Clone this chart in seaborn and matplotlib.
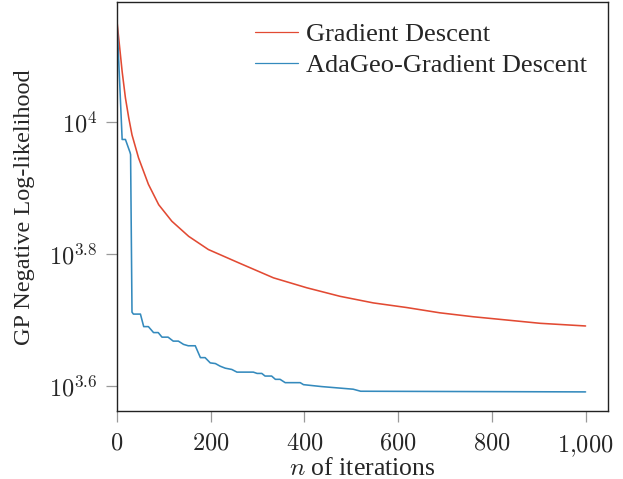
import matplotlib
matplotlib.use("Agg")
import matplotlib.pyplot as plt
import matplotlib.ticker as mticker
import pandas as pd
import seaborn as sns

# ---- data ----
gd_iter = [0, 11, 18, 25, 32, 46, 67, 89, 117, 153, 195, 259, 334, 405, 476, 547, 618,
           689, 760, 832, 903, 1000]
gd_nll = [14223, 11940, 10889, 10162, 9572, 8831, 8054, 7499, 7079, 6714, 6412, 6124,
          5808, 5610, 5445, 5321, 5236, 5140, 5070, 5012, 4955, 4909]

ada_iter = [0, 11, 18, 28, 29, 32, 35, 50, 57, 67, 78, 88, 96, 109, 120, 131, 142, 152, 167,
            178, 188, 199, 210, 220, 231, 245, 256, 291, 299, 309, 316, 330, 338, 348, 359,
            391, 398, 437, 504, 520, 1000]
ada_nll = [14223, 9419, 9419, 8995, 8933, 5152, 5117, 5117, 4898, 4898, 4797, 4797, 4721,
           4721, 4656, 4656, 4603, 4581, 4581, 4395, 4395, 4315, 4305, 4266, 4236, 4217,
           4178, 4178, 4159, 4159, 4121, 4121, 4074, 4074, 4027, 4027, 3999, 3972, 3936,
           3908, 3899]

series_names = ["Gradient Descent", "AdaGeo-Gradient Descent"]
colors = ["#E24A33", "#348ABD"]
y_tick_exps = [3.6, 3.8, 4.0]
x_ticks = [0, 200, 400, 600, 800, 1000]

df = pd.concat([
    pd.DataFrame({"iter": gd_iter, "nll": gd_nll, "method": series_names[0]}),
    pd.DataFrame({"iter": ada_iter, "nll": ada_nll, "method": series_names[1]}),
], ignore_index=True)

sns.set_theme(style="white")
plt.rcParams["font.family"] = ["Liberation Serif", "DejaVu Serif"]
plt.rcParams["mathtext.fontset"] = "cm"
plt.rcParams["lines.solid_joinstyle"] = "round"

FS = 17.5
fig = plt.figure(figsize=(6.23, 4.79), dpi=100)
ax = fig.add_axes([0.1878, 0.142, 0.976 - 0.1878, 0.995 - 0.142])

sns.lineplot(data=df, x="iter", y="nll", hue="method", palette=dict(zip(series_names, colors)),
             estimator=None, sort=False, linewidth=1.15, ax=ax, legend=False)

ax.set_yscale("log")
ax.set_xlim(0, 1048)
ax.set_ylim(10 ** 3.562, 10 ** 4.182)

ax.yaxis.set_major_locator(mticker.FixedLocator([10 ** e for e in y_tick_exps]))
ax.yaxis.set_minor_locator(mticker.NullLocator())
ax.yaxis.set_major_formatter(mticker.FixedFormatter(
    [r"$10^{%g}$" % e if e != 4.0 else r"$10^{4}$" for e in y_tick_exps]))
ax.xaxis.set_major_locator(mticker.FixedLocator(x_ticks))
ax.xaxis.set_major_formatter(mticker.FuncFormatter(
    lambda v, p: r"$%s$" % ("{:,}".format(int(v)).replace(",", "{,}"))))

ax.tick_params(axis="both", which="major", direction="out", length=8, width=0.9,
               color="#999999", labelsize=FS, bottom=True, left=True, pad=6)
ax.tick_params(axis="x", pad=8)
for sp in ax.spines.values():
    sp.set_color("#222222")
    sp.set_linewidth(1.0)

ax.set_xlabel(r"$n$ of iterations", fontsize=18.5, labelpad=-0.5)
ax.set_ylabel("GP Negative Log-likelihood", fontsize=17.5, labelpad=10)

handles = [plt.Line2D([], [], color=c, lw=0.9) for c in colors]
ax.legend(handles, series_names, loc="upper right", bbox_to_anchor=(0.99, 0.99),
          frameon=False, fontsize=19, handlelength=1.65, handletextpad=0.3,
          labelspacing=0.3, borderaxespad=0.2)

fig.savefig("out.png", dpi=100)
